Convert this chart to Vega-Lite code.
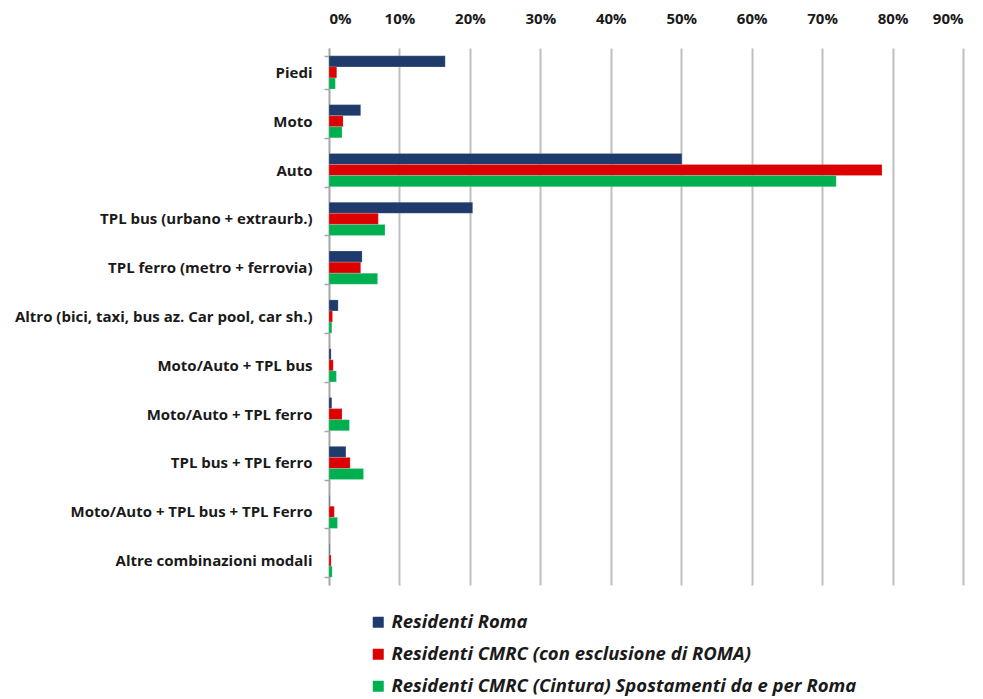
{
  "$schema": "https://vega.github.io/schema/vega-lite/v6.json",
  "width": 634,
  "height": 537,
  "autosize": "none",
  "padding": {"left": 329, "top": 48, "right": 20, "bottom": 114},
  "background": "white",
  "config": {"view": {"stroke": null}, "font": "Open Sans"},
  "data": {
    "values": [
      {"cat": "Piedi", "serie": "Residenti Roma", "v": 16.5},
      {"cat": "Piedi", "serie": "Residenti CMRC (con esclusione di ROMA)", "v": 1.1},
      {"cat": "Piedi", "serie": "Residenti CMRC (Cintura) Spostamenti da e per Roma", "v": 0.9},
      {"cat": "Moto", "serie": "Residenti Roma", "v": 4.5},
      {"cat": "Moto", "serie": "Residenti CMRC (con esclusione di ROMA)", "v": 2.0},
      {"cat": "Moto", "serie": "Residenti CMRC (Cintura) Spostamenti da e per Roma", "v": 1.85},
      {"cat": "Auto", "serie": "Residenti Roma", "v": 50.1},
      {"cat": "Auto", "serie": "Residenti CMRC (con esclusione di ROMA)", "v": 78.5},
      {"cat": "Auto", "serie": "Residenti CMRC (Cintura) Spostamenti da e per Roma", "v": 72.0},
      {"cat": "TPL bus (urbano + extraurb.)", "serie": "Residenti Roma", "v": 20.4},
      {"cat": "TPL bus (urbano + extraurb.)", "serie": "Residenti CMRC (con esclusione di ROMA)", "v": 7.0},
      {"cat": "TPL bus (urbano + extraurb.)", "serie": "Residenti CMRC (Cintura) Spostamenti da e per Roma", "v": 7.95},
      {"cat": "TPL ferro (metro + ferrovia)", "serie": "Residenti Roma", "v": 4.7},
      {"cat": "TPL ferro (metro + ferrovia)", "serie": "Residenti CMRC (con esclusione di ROMA)", "v": 4.5},
      {"cat": "TPL ferro (metro + ferrovia)", "serie": "Residenti CMRC (Cintura) Spostamenti da e per Roma", "v": 6.9},
      {"cat": "Altro (bici, taxi, bus az. Car pool, car sh.)", "serie": "Residenti Roma", "v": 1.3},
      {"cat": "Altro (bici, taxi, bus az. Car pool, car sh.)", "serie": "Residenti CMRC (con esclusione di ROMA)", "v": 0.5},
      {"cat": "Altro (bici, taxi, bus az. Car pool, car sh.)", "serie": "Residenti CMRC (Cintura) Spostamenti da e per Roma", "v": 0.4},
      {"cat": "Moto/Auto + TPL bus", "serie": "Residenti Roma", "v": 0.3},
      {"cat": "Moto/Auto + TPL bus", "serie": "Residenti CMRC (con esclusione di ROMA)", "v": 0.6},
      {"cat": "Moto/Auto + TPL bus", "serie": "Residenti CMRC (Cintura) Spostamenti da e per Roma", "v": 1.05},
      {"cat": "Moto/Auto + TPL ferro", "serie": "Residenti Roma", "v": 0.4},
      {"cat": "Moto/Auto + TPL ferro", "serie": "Residenti CMRC (con esclusione di ROMA)", "v": 1.85},
      {"cat": "Moto/Auto + TPL ferro", "serie": "Residenti CMRC (Cintura) Spostamenti da e per Roma", "v": 2.9},
      {"cat": "TPL bus + TPL ferro", "serie": "Residenti Roma", "v": 2.4},
      {"cat": "TPL bus + TPL ferro", "serie": "Residenti CMRC (con esclusione di ROMA)", "v": 3.0},
      {"cat": "TPL bus + TPL ferro", "serie": "Residenti CMRC (Cintura) Spostamenti da e per Roma", "v": 4.9},
      {"cat": "Moto/Auto + TPL bus + TPL Ferro", "serie": "Residenti Roma", "v": 0.1},
      {"cat": "Moto/Auto + TPL bus + TPL Ferro", "serie": "Residenti CMRC (con esclusione di ROMA)", "v": 0.75},
      {"cat": "Moto/Auto + TPL bus + TPL Ferro", "serie": "Residenti CMRC (Cintura) Spostamenti da e per Roma", "v": 1.2},
      {"cat": "Altre combinazioni modali", "serie": "Residenti Roma", "v": 0.1},
      {"cat": "Altre combinazioni modali", "serie": "Residenti CMRC (con esclusione di ROMA)", "v": 0.3},
      {"cat": "Altre combinazioni modali", "serie": "Residenti CMRC (Cintura) Spostamenti da e per Roma", "v": 0.45}
    ]
  },
  "mark": {"type": "bar", "stroke": "white", "strokeOpacity": 0.35, "strokeWidth": 0.5},
  "encoding": {
    "y": {
      "field": "cat",
      "type": "nominal",
      "sort": null,
      "scale": {"paddingInner": 0.32, "paddingOuter": 0.16},
      "axis": {
        "title": null,
        "labelFont": "Open Sans",
        "labelFontSize": 15,
        "labelFontWeight": "bold",
        "labelColor": "#1a1a1a",
        "labelPadding": 12,
        "ticks": true,
        "tickBand": "extent",
        "tickSize": 5,
        "tickColor": "#a6a6a6",
        "tickWidth": 1.5,
        "domainColor": "#a6a6a6",
        "domainWidth": 1.5,
        "labelLimit": 400
      }
    },
    "yOffset": {"field": "serie", "type": "nominal", "sort": null, "scale": {"paddingInner": 0}},
    "x": {
      "field": "v",
      "type": "quantitative",
      "scale": {"domain": [0, 90], "nice": false},
      "axis": {
        "orient": "top",
        "title": null,
        "values": [0, 10, 20, 30, 40, 50, 60, 70, 80, 90],
        "labelExpr": "datum.value + '%'",
        "labelFont": "Open Sans",
        "labelFontSize": 15,
        "labelFontWeight": "bold",
        "labelColor": "#1a1a1a",
        "labelPadding": 22,
        "ticks": false,
        "domain": false,
        "grid": true,
        "gridColor": "#bfbfbf",
        "gridWidth": 2
      }
    },
    "color": {
      "field": "serie",
      "type": "nominal",
      "sort": null,
      "scale": {
        "domain": ["Residenti Roma", "Residenti CMRC (con esclusione di ROMA)", "Residenti CMRC (Cintura) Spostamenti da e per Roma"],
        "range": ["#1f3b6b", "#dc0000", "#00b050"]
      },
      "legend": {
        "title": null,
        "orient": "none",
        "legendX": 40,
        "legendY": 565,
        "direction": "vertical",
        "symbolType": "square",
        "symbolSize": 121,
        "symbolStrokeWidth": 0,
        "labelFont": "Open Sans",
        "labelFontSize": 18.5,
        "labelFontWeight": "bold",
        "labelFontStyle": "italic",
        "labelColor": "#1a1a1a",
        "labelOffset": 4,
        "rowPadding": 13,
        "labelLimit": 700
      }
    }
  }
}
